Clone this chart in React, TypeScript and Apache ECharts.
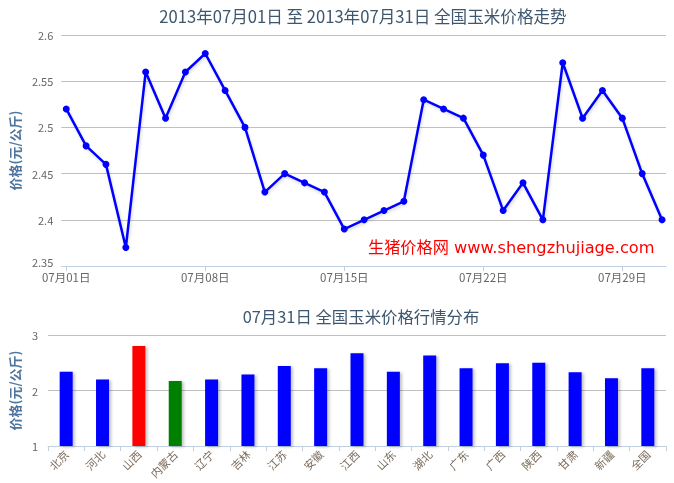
import React, { useEffect, useRef } from "react";
import * as echarts from "echarts";

const mainTitle = "2013年07月01日 至 2013年07月31日 全国玉米价格走势";
const subTitle = "07月31日 全国玉米价格行情分布";
const yAxisName = "价格(元/公斤)";
const watermark = "生猪价格网 www.shengzhujiage.com";

const dates = [
  "07月01日", "07月02日", "07月03日", "07月04日", "07月05日", "07月06日", "07月07日",
  "07月08日", "07月09日", "07月10日", "07月11日", "07月12日", "07月13日", "07月14日",
  "07月15日", "07月16日", "07月17日", "07月18日", "07月19日", "07月20日", "07月21日",
  "07月22日", "07月23日", "07月24日", "07月25日", "07月26日", "07月27日", "07月28日",
  "07月29日", "07月30日", "07月31日",
];
const prices = [
  2.52, 2.48, 2.46, 2.37, 2.56, 2.51, 2.56, 2.58, 2.54, 2.50, 2.43, 2.45, 2.44, 2.43,
  2.39, 2.40, 2.41, 2.42, 2.53, 2.52, 2.51, 2.47, 2.41, 2.44, 2.40, 2.57, 2.51, 2.54,
  2.51, 2.45, 2.40,
];
const shownDays = [1, 8, 15, 22, 29];

const regions = [
  "北京", "河北", "山西", "内蒙古", "辽宁", "吉林", "江苏", "安徽", "江西",
  "山东", "湖北", "广东", "广西", "陕西", "甘肃", "新疆", "全国",
];
const regionPrices = [
  2.34, 2.2, 2.8, 2.17, 2.2, 2.29, 2.44, 2.4, 2.67, 2.34, 2.63, 2.4, 2.49, 2.5, 2.33, 2.22, 2.4,
];

export default function App() {
  const ref = useRef<HTMLDivElement>(null);
  useEffect(() => {
    if (!ref.current) return;
    const chart = echarts.init(ref.current, null, { renderer: "svg" });
    const maxV = Math.max(...regionPrices);
    const minV = Math.min(...regionPrices);
    const font = "'Noto Sans CJK SC', 'Noto Sans', sans-serif";
    const labelColor = "#666666";
    const yMin = 2.35;
    chart.setOption({
      animation: false,
      textStyle: { fontFamily: font },
      graphic: [
        {
          type: "text",
          x: 363,
          y: 16,
          style: {
            text: mainTitle,
            fill: "#3E576F",
            font: `16.6px ${font}`,
            textAlign: "center",
            textVerticalAlign: "middle",
          },
        },
        {
          type: "text",
          x: 361,
          y: 316,
          style: {
            text: subTitle,
            fill: "#3E576F",
            font: `16.4px ${font}`,
            textAlign: "center",
            textVerticalAlign: "middle",
          },
        },
        {
          type: "text",
          x: 368,
          y: 247,
          z: 100,
          style: {
            text: watermark,
            fill: "#FF0000",
            font: `16.2px 'DejaVu Sans', 'Noto Sans CJK SC', sans-serif`,
            textAlign: "left",
            textVerticalAlign: "middle",
          },
        },
      ],
      grid: [
        { left: 61, right: 8, top: 35, bottom: 217 },
        { left: 44, right: 8, top: 335, bottom: 37 },
      ],
      xAxis: [
        {
          gridIndex: 0,
          type: "value",
          min: 0.75,
          max: 31.2,
          splitLine: { show: false },
          axisLine: { show: true, lineStyle: { color: "#C0D0E0" } },
          axisTick: {
            show: true,
            customValues: shownDays,
            length: 5,
            lineStyle: { color: "#C0D0E0" },
          },
          axisLabel: {
            customValues: shownDays,
            formatter: (v: number) => dates[Math.round(v) - 1],
            color: labelColor,
            fontSize: 11.5,
            margin: 5,
          },
        },
        {
          gridIndex: 1,
          type: "category",
          data: regions,
          axisLine: { show: true, lineStyle: { color: "#C0D0E0" } },
          axisTick: { show: true, length: 5, lineStyle: { color: "#C0D0E0" } },
          axisLabel: {
            interval: 0,
            rotate: 45,
            color: "#7a6a5a",
            fontSize: 11,
            margin: 6,
          },
        },
      ],
      yAxis: [
        {
          gridIndex: 0,
          type: "value",
          min: yMin,
          max: 2.6,
          interval: 0.05,
          name: yAxisName,
          nameLocation: "middle",
          nameRotate: 90,
          nameGap: 39,
          nameTextStyle: { color: "#4D759E", fontWeight: "bold", fontSize: 13 },
          axisLine: { show: false },
          axisTick: { show: false },
          splitLine: { lineStyle: { color: "#C0C0C0" } },
          axisLabel: {
            color: labelColor,
            fontSize: 11,
            margin: 8,
            formatter: (v: number) =>
              Math.abs(v - yMin) < 1e-9 ? `{low|${+v.toFixed(2)}}` : `${+v.toFixed(2)}`,
            rich: {
              low: { fontSize: 11, color: labelColor, lineHeight: 12, padding: [0, 0, 9, 0] },
            },
          },
        },
        {
          gridIndex: 1,
          type: "value",
          min: 1,
          max: 3,
          interval: 1,
          name: yAxisName,
          nameLocation: "middle",
          nameRotate: 90,
          nameGap: 22,
          nameTextStyle: { color: "#4D759E", fontWeight: "bold", fontSize: 13 },
          axisLine: { show: false },
          axisTick: { show: false },
          splitLine: { lineStyle: { color: "#C0C0C0" } },
          axisLabel: { color: labelColor, fontSize: 11, margin: 10 },
        },
      ],
      series: [
        {
          type: "line",
          xAxisIndex: 0,
          yAxisIndex: 0,
          data: prices.map((p, i) => [i + 1, p]),
          symbol: "circle",
          symbolSize: 7,
          itemStyle: { color: "#0000FF" },
          lineStyle: {
            color: "#0000FF",
            width: 2.5,
            shadowColor: "rgba(0,0,0,0.15)",
            shadowBlur: 3,
            shadowOffsetX: 1,
            shadowOffsetY: 2,
          },
        },
        {
          type: "bar",
          xAxisIndex: 1,
          yAxisIndex: 1,
          barWidth: 13,
          data: regionPrices.map((v) => ({
            value: v,
            itemStyle: {
              color: v === maxV ? "#FF0000" : v === minV ? "#008000" : "#0000FF",
              shadowColor: "rgba(0,0,0,0.25)",
              shadowBlur: 3,
              shadowOffsetX: 2,
              shadowOffsetY: 1,
            },
          })),
        },
      ],
    });
    return () => chart.dispose();
  }, []);
  return (
    <div
      ref={ref}
      style={{ position: "fixed", left: 0, top: 0, width: 674, height: 483 }}
    />
  );
}
